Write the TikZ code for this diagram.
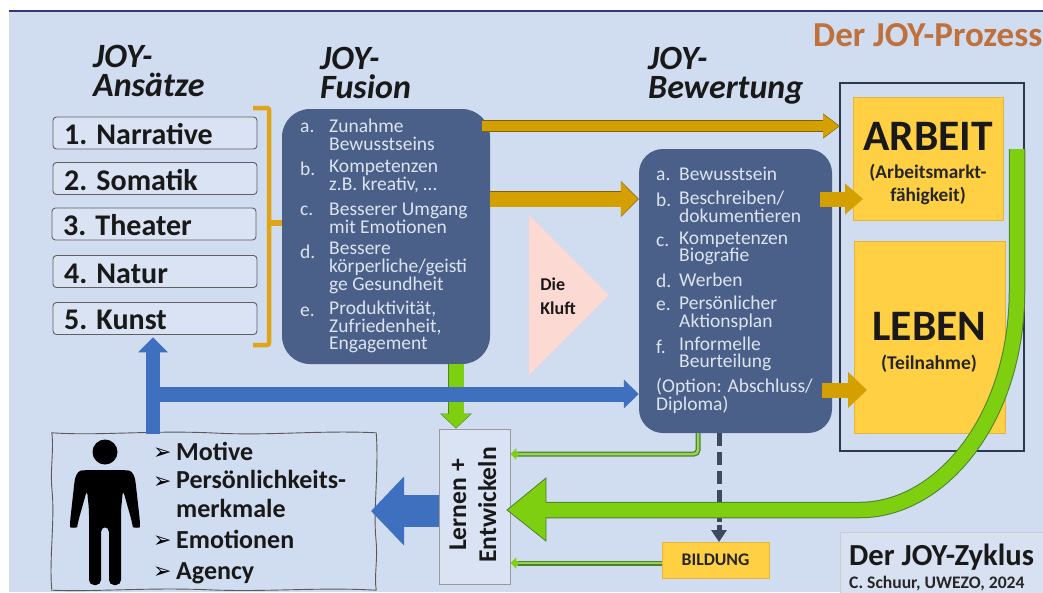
\documentclass[tikz,border=0pt]{standalone}
\usepackage{fontspec}
\setmainfont{Carlito}
\newfontfamily\symfont{DejaVu Sans}
\usetikzlibrary{arrows.meta,calc}
\definecolor{bgblue}{HTML}{D0DCEF}
\definecolor{boxblue}{HTML}{D9E3F3}
\definecolor{panel}{HTML}{4A6088}
\definecolor{paneltext}{HTML}{DDE4F0}
\definecolor{gold}{HTML}{D4A000}
\definecolor{goldedge}{HTML}{7C6210}
\definecolor{bracketc}{HTML}{E0A418}
\definecolor{yellowbox}{HTML}{FFD044}
\definecolor{yellowedge}{HTML}{E3B53C}
\definecolor{bluearrow}{HTML}{3F70C0}
\definecolor{greenarrow}{HTML}{7DCF10}
\definecolor{greenedge}{HTML}{4E8030}
\definecolor{pinktri}{HTML}{FDD9D4}
\definecolor{darkline}{HTML}{3B4A60}
\definecolor{titleor}{HTML}{C0703A}
\definecolor{frameedge}{HTML}{2B3850}
\tikzset{
  approach/.style={draw=gray!75!black,fill=boxblue,rounded corners=3.5pt,line width=.9pt,minimum width=204pt,minimum height=32pt,inner sep=0},
  approachtext/.style={anchor=base west,inner sep=0,font=\fontsize{30}{30}\selectfont\bfseries,text=black!90},
  heading/.style={anchor=north west,inner sep=0,align=left,font=\fontsize{34}{29}\selectfont\bfseries\itshape,text=black!90},
  panelbox/.style={fill=panel,rounded corners=28pt,inner sep=0},
  litem/.style={anchor=west,inner sep=0,align=left,text=paneltext,font=\fontsize{19.5}{17.7}\selectfont},
  ybox/.style={fill=yellowbox,draw=yellowedge,line width=.8pt,inner sep=0},
  bullet/.style={anchor=base west,inner sep=0,font=\fontsize{26}{26}\selectfont\bfseries,text=black!90},
  bmark/.style={anchor=base west,inner sep=0,font=\symfont\fontsize{22}{22}\selectfont,text=black},
}
% colour, edge colour, line width, head length, head width, path
\newcommand{\blockarrow}[6]{%
  \draw[#2,line width=#3pt+1.6pt,-{Triangle[length=#4pt+1pt,width=#5pt+2pt]}] #6;
  \draw[#1,line width=#3pt,-{Triangle[length=#4pt,width=#5pt]},shorten >=.8pt] #6;
}
\begin{document}
\begin{tikzpicture}[x=1pt,y=-1pt]
\useasboundingbox (0,0) rectangle (1043,592);
\fill[white] (0,0) rectangle (1043,592);
\fill[bgblue] (9,11) rectangle (1043,592);
\draw[gray!60!blue!70!black,line width=1.1pt] (9,11) -- (1043,11);

% coordinates for connector levels
\coordinate (lvlA) at (0,126);
\coordinate (lvlB) at (0,199);
\coordinate (lvlC) at (0,394);
\coordinate (lvlD) at (0,390);
\coordinate (lvlE) at (0,563);
\coordinate (lvlF) at (0,511);

% Title
\node[anchor=base west,inner sep=0,font=\fontsize{35}{35}\selectfont\bfseries,text=titleor] (title) at (813,46) {Der JOY-Prozess};

% Headings
\node[heading] (h1) at (93,45) {JOY-\\Ansätze};
\node[heading] (h2) at (320,47) {JOY-\\Fusion};
\node[heading] (h3) at (648,47) {JOY-\\Bewertung};

% Outer frame and yellow boxes
\node[draw=frameedge,line width=1.2pt,minimum width=184pt,minimum height=368pt,inner sep=0] (frame) at (932,267) {};
\node[ybox,minimum width=150pt,minimum height=123pt] (arbeit) at (928,158.5) {};
\node[ybox,minimum width=151pt,minimum height=192pt] (leben) at (929.5,337) {};
\node[inner sep=0,font=\fontsize{43.5}{43.5}\selectfont\bfseries,text=black!90] (arbeitT) at (928,136) {ARBEIT};
\node[inner sep=0,align=center,font=\fontsize{19.3}{23}\selectfont\bfseries,text=black!85] (arbeitS) at (928,184) {(Arbeitsmarkt-\\fähigkeit)};
\node[inner sep=0,font=\fontsize{43.5}{43.5}\selectfont\bfseries,text=black!90] (lebenT) at (929.5,326) {LEBEN};
\node[inner sep=0,font=\fontsize{19.5}{20}\selectfont\bfseries,text=black!85] (lebenS) at (929,364) {(Teilnahme)};

% Approach boxes
\node[approach] (n1) at (155,133) {};
\node[approach] (n2) at (155,178.5) {};
\node[approach] (n3) at (154,224) {};
\node[approach] (n4) at (155,271.5) {};
\node[approach] (n5) at (155,318.5) {};
\node[approachtext] (t1) at (64,144) {1. Narrative};
\node[approachtext] (t2) at (64,190) {2. Somatik};
\node[approachtext] (t3) at (63,235) {3. Theater};
\node[approachtext] (t4) at (64,283) {4. Natur};
\node[approachtext] (t5) at (64,329.5) {5. Kunst};

% Bracket
\coordinate (brT) at (253,108);
\coordinate (brB) at (253,345);
\draw[bracketc,line width=4.5pt,rounded corners=2pt] (brT) -- (269,108) -- (269,345) -- (brB);

% Panels
\node[panelbox,minimum width=208pt,minimum height=255pt] (fusion) at (386,236.5) {};
\node[panelbox,rounded corners=24pt,minimum width=193pt,minimum height=284pt] (bew) at (735.5,291) {};
\draw[bracketc,line width=6pt] (269,223) -- (fusion.west |- 0,223);

% Fusion list
\node[litem] (fa) at (300,128) {a.};
\node[litem] (fat) at (329,135) {Zunahme\\Bewusstseins};
\node[litem] (fb) at (300,169) {b.};
\node[litem] (fbt) at (329,176.5) {Kompetenzen\\z.B. kreativ, …};
\node[litem] (fc) at (300,211) {c.};
\node[litem] (fct) at (329,218) {Besserer Umgang\\mit Emotionen};
\node[litem] (fd) at (300,252) {d.};
\node[litem] (fdt) at (329,268) {Bessere\\körperliche/geisti\\ge Gesundheit};
\node[litem] (fe) at (300,312) {e.};
\node[litem] (fet) at (329,327) {Produktivität,\\Zufriedenheit,\\Engagement};

% Bewertung list
\node[litem] (ba) at (656,176) {a.};
\node[litem] (bat) at (679,174) {Bewusstsein};
\node[litem] (bb) at (656,200) {b.};
\node[litem] (bbt) at (679,207) {Beschreiben/\\dokumentieren};
\node[litem] (bc) at (656,242) {c.};
\node[litem] (bct) at (679,248.5) {Kompetenzen\\Biografie};
\node[litem] (bd) at (656,281) {d.};
\node[litem] (bdt) at (679,280) {Werben};
\node[litem] (be) at (656,306) {e.};
\node[litem] (bet) at (679,313) {Persönlicher\\Aktionsplan};
\node[litem] (bf) at (656,347) {f.};
\node[litem] (bft) at (679,354) {Informelle\\Beurteilung};
\node[litem] (bo) at (656,396) {(Option: Abschluss/\\Diploma)};

% Pink triangle
\path[fill=pinktri] (529,215) -- (609,295) -- (529,375) -- cycle;
\node[inner sep=0,align=left,font=\fontsize{18}{24}\selectfont\bfseries,text=black!90] (kluft) at (558,296) {Die\\Kluft};

% Person box
\node[minimum width=324pt,minimum height=157pt,inner sep=0] (person) at (214,511.5) {};
\draw[gray!70!black,line width=.9pt,fill=bgblue]
  (person.north west) .. controls (100,436) and (150,430) .. (214,433) .. controls (270,436) and (320,430) .. (person.north east)
  .. controls (379,470) and (373,510) .. (376,540) .. controls (378,560) and (374,575) .. (person.south east)
  .. controls (320,587) and (270,592) .. (214,590) .. controls (150,587) and (100,592) .. (person.south west)
  .. controls (49,560) and (55,520) .. (52,490) .. controls (50,470) and (54,450) .. (person.north west) -- cycle;

% Learning box
\node[draw=gray!80,line width=.8pt,fill=boxblue,minimum width=71pt,minimum height=155pt,inner sep=0] (lernen) at (474.5,506.5) {};
\node[rotate=90,inner sep=0,align=center,font=\fontsize{25.6}{30}\selectfont\bfseries,text=black!90] (lernenT) at (473,505) {Lernen +\\Entwickeln};

% Bildung
\node[ybox,minimum width=107pt,minimum height=36pt,font=\fontsize{17.7}{17.7}\selectfont\bfseries,text=black!85] (bildung) at (715.5,560) {BILDUNG};

% Green arrow fusion -> learning
\coordinate (gdown) at (456,0);
\blockarrow{greenarrow}{greenedge}{15}{14}{29}{(fusion.south -| gdown) -- (lernen.north -| gdown)}
% blue arrows
\coordinate (blueA) at (153,434);
\draw[bluearrow,line width=14pt] (blueA) -- (153,352);
\draw[bluearrow,line width=0pt,-{Triangle[length=15pt,width=30pt]}] (153,353) -- ($(n5.south -| blueA)+(0,2.5)$);
\draw[bluearrow,line width=15pt,-{Triangle[length=15pt,width=28pt]}] (160,394) -- (bew.west |- lvlC);
% Blue arrow into person
\draw[bluearrow,line width=32pt,-{Triangle[length=33pt,width=67pt]}] (lernen.west |- lvlF) -- (371,511);

% Gold arrows
\blockarrow{gold}{goldedge}{10}{16}{22}{(482,126) -- (840,126)}
\blockarrow{gold}{goldedge}{15}{17}{33}{(fusion.east |- lvlB) -- (bew.west |- lvlB)}
\draw[gold,line width=15pt,-{Triangle[length=18pt,width=30pt]}] (820,199) -- (863,199);
\draw[gold,line width=15pt,-{Triangle[length=19pt,width=35pt]}] (822,390) -- (867,390);

% Thin green connectors
\draw[greenedge,line width=5pt,rounded corners=4pt] (698,433) -- (698,454) -- (516,454);
\draw[greenarrow!70!bgblue,line width=2.5pt,rounded corners=4pt] (698,433) -- (698,454) -- (516,454);
\draw[greenedge,line width=5pt] (bildung.west |- lvlE) -- (516,563);
\draw[greenarrow!70!bgblue,line width=2.5pt] (bildung.west |- lvlE) -- (516,563);
\draw[greenarrow,line width=5pt,-{Triangle[length=6pt,width=11pt]}] (518,454) -- (lernen.east |- 0,454);
\draw[greenarrow,line width=5pt,-{Triangle[length=6pt,width=11pt]}] (518,563) -- (lernen.east |- lvlE);

% Dashed connector
\draw[darkline,line width=5pt,dash pattern=on 13pt off 6pt] (719,433) -- (719,530);
\draw[darkline,line width=5pt,-{Triangle[length=12pt,width=15pt]}] (719,525) -- (719,542);

% Large green arrow
\coordinate (gstart) at (1017,149);
\draw[greenedge,line width=16.5pt,line cap=butt] (gstart) -- (1017,290) .. controls (1017,420) and (940,510) .. (860,510) -- (546,510);
\draw[greenarrow,line width=14.5pt] (gstart) -- (1017,290) .. controls (1017,420) and (940,510) .. (860,510) -- (540,510);
\path[fill=greenarrow,draw=greenedge,line width=.8pt] (546,478) -- (507,510) -- (546,541) -- cycle;
\fill[greenarrow] (543,503) rectangle (548,517);

% Person silhouette
\fill[black] (105,452) circle (12.5pt);
\fill[black,rounded corners=5pt] (105,470) -- (124,470) .. controls (133,471) and (135,478) .. (136,486) -- (140,522) .. controls (140,528) and (133,528) .. (132,522) -- (123,490) -- (121,510) -- (121,585) -- (109,585) -- (109,527) -- (101,527) -- (101,585) -- (89,585) -- (89,510) -- (87,490) -- (78,522) .. controls (77,528) and (70,528) .. (70,522) -- (74,486) .. controls (75,478) and (77,471) .. (86,470) -- cycle;

% Person bullets
\node[bmark] (m1) at (153,459) {➢};
\node[bmark] (m2) at (153,488) {➢};
\node[bmark] (m3) at (153,547) {➢};
\node[bmark] (m4) at (153,578) {➢};
\node[bullet] (p1) at (176,460) {Motive};
\node[bullet] (p2) at (176,488) {Persönlichkeits-};
\node[bullet] (p3) at (176,517) {merkmale};
\node[bullet] (p4) at (176,548) {Emotionen};
\node[bullet] (p5) at (176,579) {Agency};

% Cycle label
\node[draw=gray!40,line width=.6pt,fill=bgblue!85!white,minimum width=210pt,minimum height=62pt,inner sep=0,anchor=north west] (zyk) at (840,532) {};
\node[anchor=base west,inner sep=0,font=\fontsize{30.6}{30.6}\selectfont\bfseries,text=black!90] (zt) at (849,565) {Der JOY-Zyklus};
\node[anchor=base west,inner sep=0,font=\fontsize{17.6}{17.6}\selectfont\bfseries,text=black!85] (zs) at (849,588) {C. Schuur, UWEZO, 2024};
\end{tikzpicture}
\end{document}
